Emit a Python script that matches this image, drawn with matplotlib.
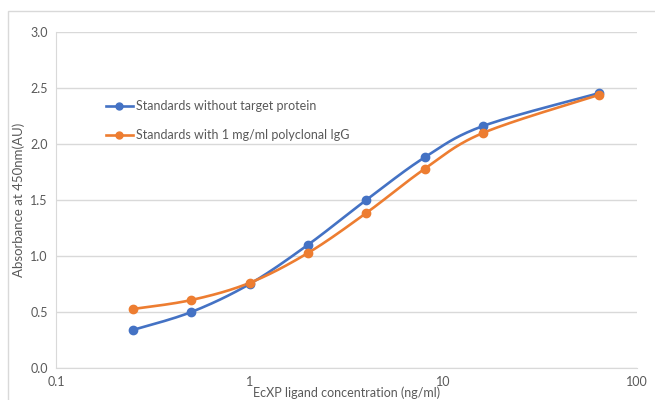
import numpy as np
import matplotlib.pyplot as plt
from matplotlib.patches import Rectangle

plt.rcParams['font.family'] = ['Lato', 'DejaVu Sans']

# data
conc = [0.25, 0.5, 1, 2, 4, 8, 16, 64]
without_target = [0.34, 0.50, 0.75, 1.10, 1.50, 1.88, 2.16, 2.455]
with_igg = [0.527, 0.607, 0.76, 1.027, 1.384, 1.777, 2.098, 2.44]
labels = ["Standards without target protein", "Standards with 1 mg/ml polyclonal IgG"]
colors = ["#4472C4", "#ED7D31"]


def smooth(x, y, n=30):
    # Excel-like smoothed line (Catmull-Rom as cubic Bezier), done in log-x space
    lx = np.log10(x)
    y = np.asarray(y, float)
    px = np.concatenate([[lx[0]], lx, [lx[-1]]])
    py = np.concatenate([[y[0]], y, [y[-1]]])
    xs, ys = [], []
    t = np.linspace(0, 1, n)
    for i in range(1, len(px) - 2):
        p0 = np.array([px[i], py[i]])
        p3 = np.array([px[i + 1], py[i + 1]])
        c1 = p0 + (np.array([px[i + 1], py[i + 1]]) - np.array([px[i - 1], py[i - 1]])) / 6
        c2 = p3 - (np.array([px[i + 2], py[i + 2]]) - np.array([px[i], py[i]])) / 6
        b = ((1 - t) ** 3)[:, None] * p0 + (3 * (1 - t) ** 2 * t)[:, None] * c1 \
            + (3 * (1 - t) * t ** 2)[:, None] * c2 + (t ** 3)[:, None] * p3
        xs.extend(b[:, 0]); ys.extend(b[:, 1])
    return 10 ** np.array(xs), np.array(ys)


fig = plt.figure(figsize=(6.55, 4), dpi=100)
fig.patches.append(Rectangle((8 / 655, -0.1), 1.2, 1 - 11 / 400 + 0.1, transform=fig.transFigure,
                             fill=False, edgecolor="#d9d9d9", lw=1))
ax = fig.add_axes([56 / 655, 32 / 400, (637 - 56) / 655, (368 - 32) / 400])

for ys, lab, c in zip([without_target, with_igg], labels, colors):
    sx, sy = smooth(conc, ys)
    ax.plot(sx, sy, color=c, lw=1.9, zorder=3)
    ax.plot(conc, ys, 'o', color=c, ms=6, zorder=4)
    ax.plot([], [], '-o', color=c, lw=1.9, ms=5, label=lab)

ax.set_xscale('log')
ax.set_xlim(0.1, 100)
ax.set_ylim(0, 3)
ax.set_xticks([0.1, 1, 10, 100])
ax.set_xticklabels(["0.1", "1", "10", "100"])
ax.minorticks_off()
ax.set_yticks(np.arange(0, 3.01, 0.5))
ax.set_yticklabels([f"{v:.1f}" for v in np.arange(0, 3.01, 0.5)])
ax.grid(axis='y', color="#d9d9d9", lw=1)
ax.set_axisbelow(True)
for s in ['top', 'right']:
    ax.spines[s].set_visible(False)
for s in ['left', 'bottom']:
    ax.spines[s].set_color("#d9d9d9")
ax.tick_params(length=0, labelsize=9, colors="#595959", pad=6)

ax.set_ylabel("Absorbance at 450nm(AU)", fontsize=9.5, color="#595959", labelpad=4)
ax.set_xlabel("EcXP ligand concentration (ng/ml)", fontsize=9, color="#595959", labelpad=-1)

leg = ax.legend(loc='upper left', bbox_to_anchor=(0.066, 0.83), frameon=False, fontsize=9,
                handlelength=2.2, labelspacing=1.35, handletextpad=0.2, labelcolor="#595959")

fig.savefig("out.png", dpi=100)
